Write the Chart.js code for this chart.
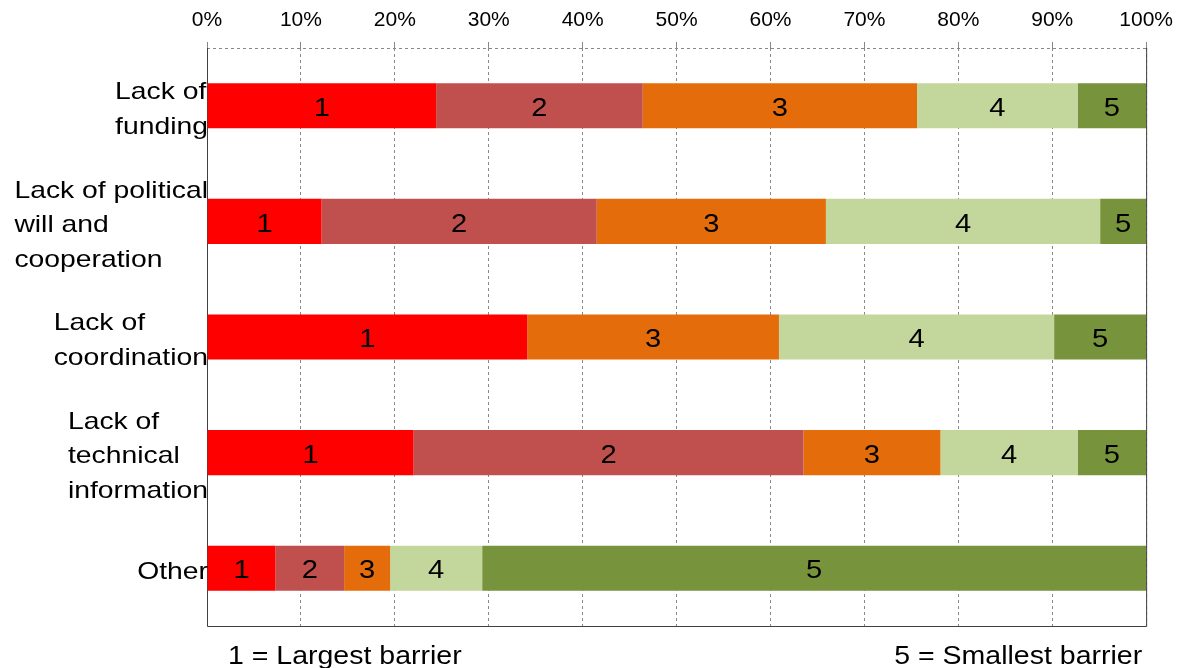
<!DOCTYPE html>
<html>
<head>
<meta charset="utf-8">
<script src="https://cdn.jsdelivr.net/npm/chart.js@4.4.1/dist/chart.umd.min.js"></script>
<style>
  body { margin: 0; background: #fff; }
  #wrap { width: 1182px; height: 668px; }
</style>
</head>
<body>
<div id="wrap"><canvas id="barriers"></canvas></div>
<script>
// Categorias (rótulos em várias linhas)
const categories = [
  ['Lack of', 'funding'],
  ['Lack of political', 'will and', 'cooperation'],
  ['Lack of', 'coordination'],
  ['Lack of', 'technical', 'information'],
  ['Other']
];

// Percentual de respostas por posição (1 = maior barreira, 5 = menor)
const rank1 = [24.4, 12.2, 34.1, 22.0, 7.3];
const rank2 = [22.0, 29.3, 0, 41.5, 7.3];
const rank3 = [29.2, 24.4, 26.8, 14.6, 4.9];
const rank4 = [17.1, 29.2, 29.3, 14.6, 9.8];
const rank5 = [7.3, 4.9, 9.8, 7.3, 70.7];

const rankLabels = ['1', '2', '3', '4', '5'];
const rankColors = ['#FF0000', '#C0504D', '#E46C0A', '#C3D69B', '#77933C'];
const footLeft = '1 = Largest barrier';
const footRight = '5 = Smallest barrier';

const FONT = "'Liberation Sans', Arial, sans-serif";

// texto levemente esticado na horizontal, como no original
function drawText(ctx, text, x, y, align, size, sx) {
  ctx.save();
  ctx.font = size + 'px ' + FONT;
  ctx.fillStyle = '#000';
  ctx.textAlign = align;
  ctx.textBaseline = 'middle';
  ctx.translate(x, y);
  ctx.scale(sx, 1);
  ctx.fillText(text, 0, 0);
  ctx.restore();
}

const framePlugin = {
  id: 'frame',
  beforeDatasetsDraw(chart) {
    const { ctx, chartArea: a } = chart;
    ctx.save();
    ctx.lineWidth = 1;
    ctx.strokeStyle = '#888';
    ctx.setLineDash([3, 3]);
    ctx.beginPath();
    ctx.moveTo(a.left, a.top + 0.5);
    ctx.lineTo(a.right, a.top + 0.5);
    ctx.stroke();
    ctx.setLineDash([]);
    ctx.strokeStyle = '#404040';
    ctx.beginPath();
    ctx.moveTo(a.left + 0.5, a.top);
    ctx.lineTo(a.left + 0.5, a.bottom + 0.5);
    ctx.lineTo(a.right + 0.5, a.bottom + 0.5);
    ctx.lineTo(a.right + 0.5, a.top);
    ctx.stroke();
    ctx.restore();
  }
};

const labelPlugin = {
  id: 'labels',
  afterDatasetsDraw(chart) {
    const { ctx, chartArea: a } = chart;
    const yScale = chart.scales.y;

    // números dentro dos segmentos
    chart.data.datasets.forEach((ds, i) => {
      const meta = chart.getDatasetMeta(i);
      meta.data.forEach((bar, j) => {
        if (!ds.data[j]) return;
        const cx = (bar.x + bar.base) / 2;
        drawText(ctx, rankLabels[i], cx, bar.y + 3, 'center', 26, 1.12);
      });
    });

    // rótulos das categorias
    const sx = 1.18, size = 24, lh = 34.5;
    ctx.save();
    ctx.font = size + 'px ' + FONT;
    categories.forEach((lines, j) => {
      const yc = yScale.getPixelForValue(j) + 4;
      const w = Math.max(...lines.map(l => ctx.measureText(l).width)) * sx;
      const x0 = a.left + 1 - w;
      const y0 = yc - (lines.length - 1) * lh / 2;
      lines.forEach((l, k) => drawText(ctx, l, x0, y0 + k * lh, 'left', size, sx));
    });
    ctx.restore();

    // legenda inferior
    drawText(ctx, footLeft, a.left + 21, a.bottom + 31, 'left', 25, 1.14);
    drawText(ctx, footRight, a.right - 4, a.bottom + 31, 'right', 25, 1.14);
  }
};

const rankData = [rank1, rank2, rank3, rank4, rank5];

const ctx = document.getElementById('barriers').getContext('2d');
const barriersChart = new Chart(ctx, {
  type: 'bar',
  data: {
    labels: categories,
    datasets: rankData.map((d, i) => ({
      label: rankLabels[i],
      data: d,
      backgroundColor: rankColors[i],
      borderWidth: 0,
      barPercentage: 0.39,
      categoryPercentage: 1
    }))
  },
  options: {
    indexAxis: 'y',
    responsive: true,
    maintainAspectRatio: false,
    animation: false,
    layout: {
      padding: { left: 207, right: 34, top: 0, bottom: 42 }
    },
    plugins: {
      legend: { display: false },
      tooltip: { enabled: false }
    },
    scales: {
      x: {
        position: 'top',
        stacked: true,
        min: 0,
        max: 100,
        afterFit(scale) { scale.height = 48; },
        ticks: {
          stepSize: 10,
          padding: 9,
          color: '#000',
          font: { family: FONT, size: 21 },
          callback: v => v + '%'
        },
        grid: {
          color: '#888',
          lineWidth: 1,
          tickLength: 6
        },
        border: { display: false, dash: [3, 3] }
      },
      y: {
        stacked: true,
        display: false
      }
    }
  },
  plugins: [framePlugin, labelPlugin]
});
</script>
</body>
</html>
